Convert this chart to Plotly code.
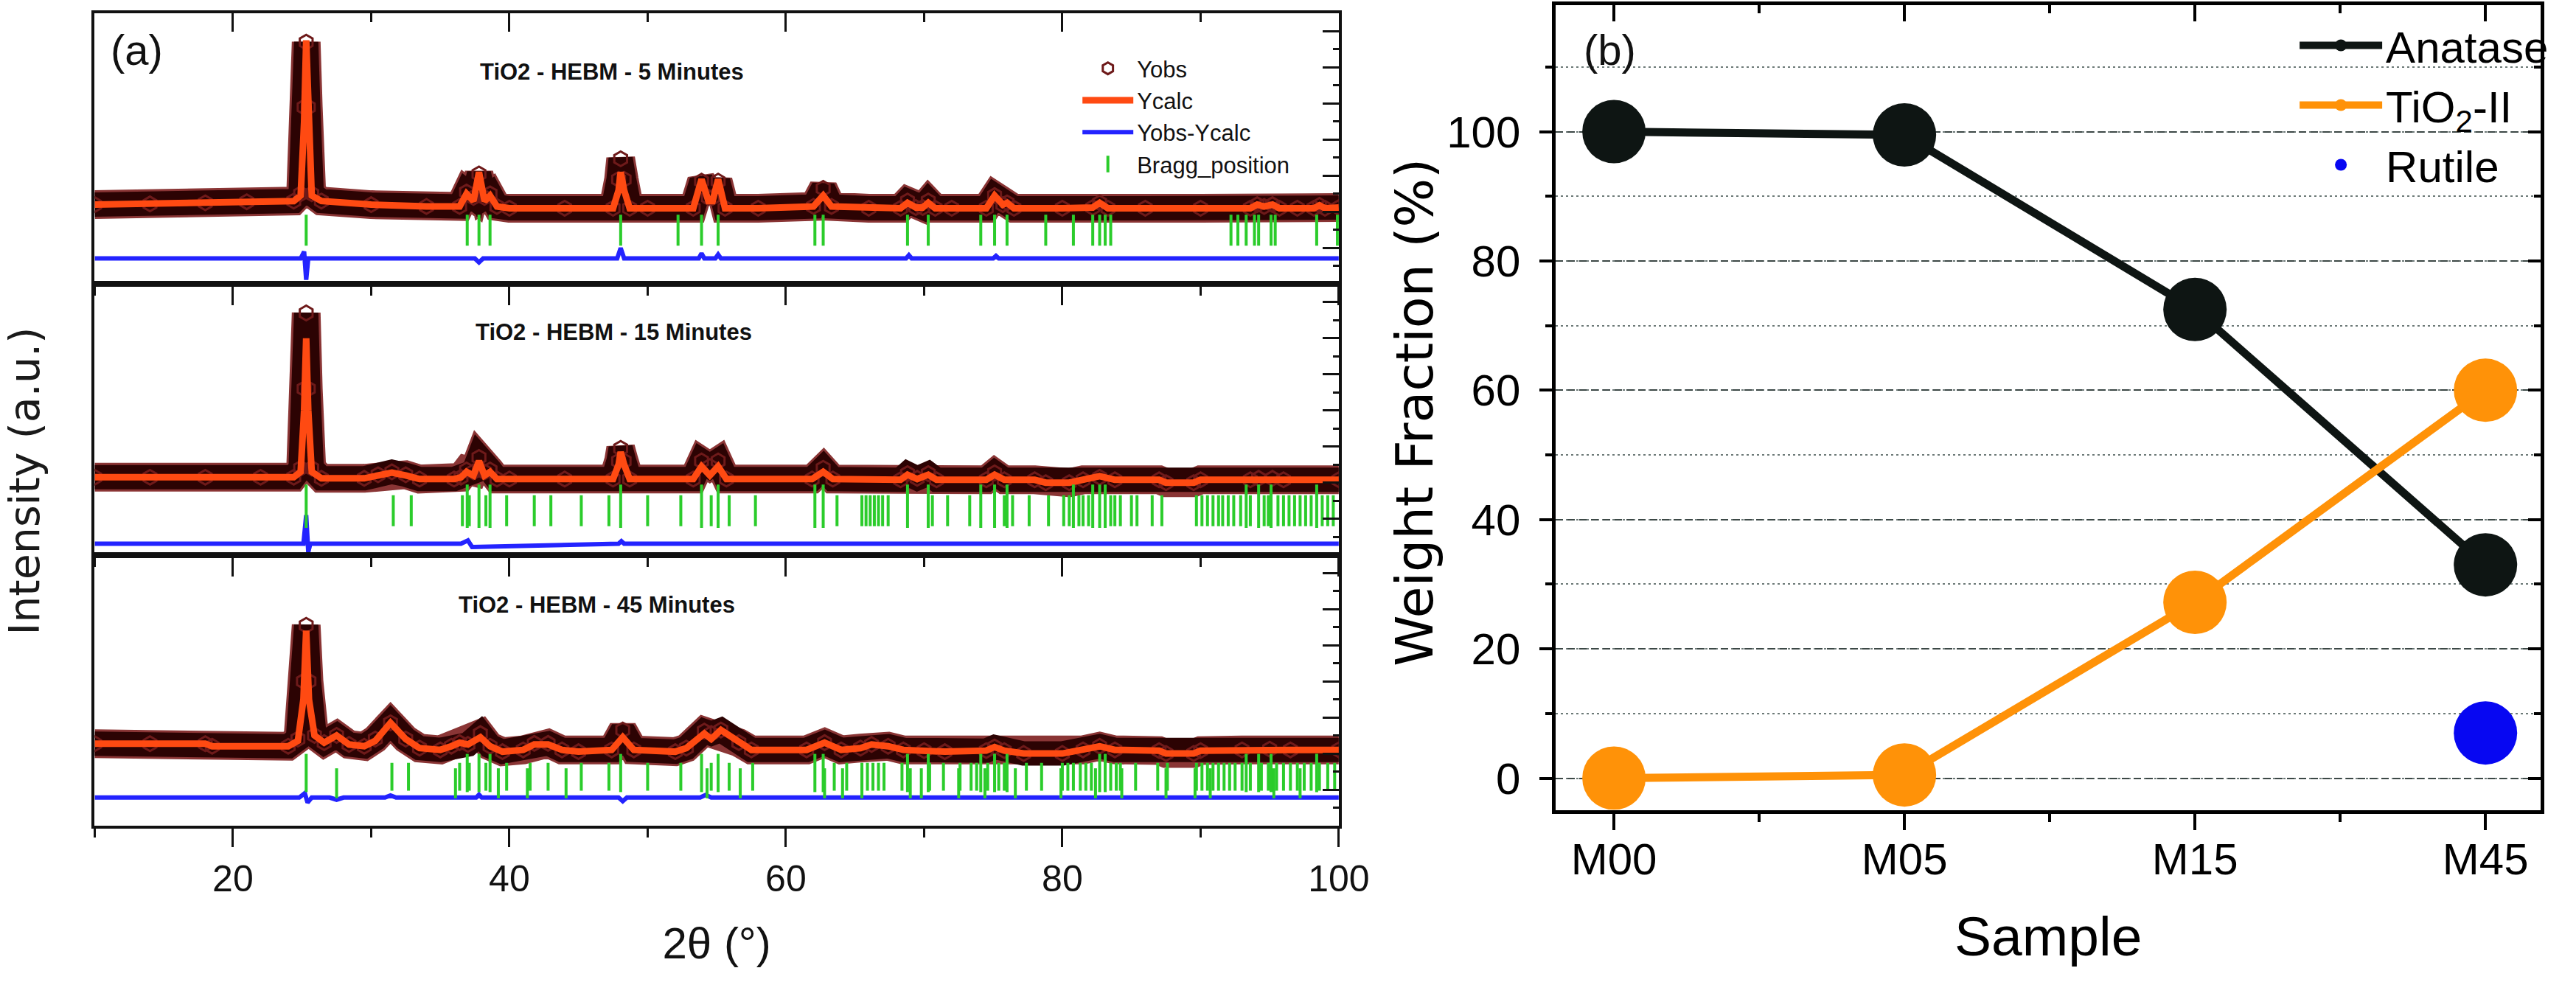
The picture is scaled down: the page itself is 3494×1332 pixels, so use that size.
import plotly.graph_objects as go

# ======================= DATA =======================
# ---- panel (a): Rietveld patterns (2theta in degrees, intensity in a.u.) ----
tt_05 = [10, 14, 18, 21, 24.4, 24.9, 25.15, 25.3, 25.45, 25.7,
         26.4, 30, 34, 36.4, 36.9, 37.4, 37.8, 38.2, 38.6, 39.1,
         40, 44, 47.5, 47.9, 48.05, 48.3, 48.7, 50, 53.3, 53.9,
         54.4, 54.7, 55.1, 55.6, 58, 62.0, 62.7, 63.3, 66, 68.3,
         68.8, 69.4, 69.9, 70.3, 70.8, 72, 74.5, 75.1, 75.7, 76.0,
         76.5, 80, 82.2, 82.7, 83.3, 86, 90, 93.6, 94.1, 94.6,
         95.2, 95.7, 97, 98.2, 98.6, 99.0, 100]
yobs_05 = [2.2, 2.22, 2.25, 2.28, 2.3, 2.5, 4.9, 6.7, 4.9, 2.5,
           2.3, 2.2, 2.15, 2.15, 2.55, 2.4, 3.05, 2.4, 2.5, 2.15,
           2.1, 2.1, 2.1, 2.9, 3.47, 2.9, 2.1, 2.1, 2.1, 2.85,
           2.4, 2.4, 2.85, 2.1, 2.1, 2.15, 2.65, 2.15, 2.1, 2.1,
           2.3, 2.12, 2.12, 2.3, 2.1, 2.1, 2.1, 2.45, 2.2, 2.25,
           2.1, 2.1, 2.12, 2.25, 2.1, 2.1, 2.1, 2.1, 2.2, 2.15,
           2.2, 2.1, 2.1, 2.1, 2.18, 2.1, 2.12]
ycalc_05 = [2.2, 2.22, 2.25, 2.28, 2.3, 2.45, 4.5, 6.75, 4.5, 2.45,
            2.3, 2.2, 2.15, 2.15, 2.5, 2.3, 3.1, 2.3, 2.45, 2.15,
            2.1, 2.1, 2.1, 2.6, 3.1, 2.6, 2.1, 2.1, 2.1, 2.9,
            2.3, 2.3, 2.9, 2.1, 2.1, 2.15, 2.45, 2.15, 2.1, 2.1,
            2.25, 2.12, 2.12, 2.25, 2.1, 2.1, 2.1, 2.45, 2.2, 2.25,
            2.1, 2.1, 2.12, 2.25, 2.1, 2.1, 2.1, 2.1, 2.2, 2.15,
            2.2, 2.1, 2.1, 2.1, 2.18, 2.1, 2.12]
diff_tt_05 = [10, 24.9, 25.15, 25.3, 25.45, 25.7, 37.5, 37.8, 38.1, 47.8,
              48.05, 48.3, 53.7, 53.9, 54.1, 54.9, 55.1, 55.3, 68.7, 68.9,
              69.1, 75.0, 75.2, 75.4, 100]
diff_05 = [0, 0, 0.19, -0.59, 0, 0, 0, -0.11, 0, 0,
           0.29, 0, 0, 0.14, 0, 0, 0.11, 0, 0, 0.09,
           0, 0, 0.07, 0, 0]
bragg_anatase_05 = [25.3, 36.95, 37.8, 38.6, 48.05, 52.2, 53.9, 55.1, 62.1, 62.7,
                    68.8, 70.3, 74.1, 75.1, 76.0, 78.8, 80.8, 82.2, 82.7, 83.1,
                    83.5, 92.2, 92.7, 93.3, 93.9, 94.2, 95.1, 95.4, 98.4, 99.9]

tt_15 = [10, 14, 18, 22, 24.4, 24.9, 25.15, 25.3, 25.45, 25.7,
         26.4, 29.5, 30.5, 31.5, 32.5, 33.5, 36, 36.5, 36.9, 37.4,
         37.8, 38.2, 38.6, 39.1, 40, 44, 47.5, 47.9, 48.05, 48.3,
         48.7, 53.3, 53.9, 54.5, 55.1, 55.7, 61.9, 62.7, 63.4, 68.3,
         68.8, 69.5, 70.3, 70.9, 74.5, 75.1, 75.8, 78, 78.8, 80.5,
         81.5, 82.7, 83.8, 87, 87.5, 89.5, 90, 93.6, 94.2, 95.2,
         96, 100]
yobs_15 = [2.15, 2.15, 2.15, 2.15, 2.15, 2.4, 4.6, 6.7, 4.6, 2.4,
           2.12, 2.12, 2.22, 2.3, 2.22, 2.1, 2.1, 2.15, 2.35, 2.3,
           2.7, 2.3, 2.35, 2.1, 2.1, 2.1, 2.1, 2.6, 2.95, 2.6,
           2.1, 2.1, 2.6, 2.45, 2.6, 2.1, 2.1, 2.4, 2.1, 2.08,
           2.25, 2.12, 2.25, 2.08, 2.08, 2.27, 2.08, 2.08, 2.0, 2.0,
           2.08, 2.15, 2.08, 2.08, 2.0, 2.0, 2.08, 2.08, 2.12, 2.12,
           2.08, 2.08]
ycalc_15 = [2.15, 2.15, 2.15, 2.15, 2.15, 2.3, 4.0, 6.0, 4.0, 2.3,
            2.12, 2.12, 2.2, 2.28, 2.2, 2.1, 2.1, 2.15, 2.3, 2.2,
            2.6, 2.2, 2.3, 2.1, 2.1, 2.1, 2.1, 2.5, 2.85, 2.5,
            2.1, 2.1, 2.45, 2.2, 2.45, 2.1, 2.1, 2.3, 2.1, 2.08,
            2.22, 2.1, 2.22, 2.08, 2.08, 2.22, 2.08, 2.08, 2.0, 2.0,
            2.08, 2.18, 2.08, 2.08, 2.0, 2.0, 2.08, 2.08, 2.12, 2.12,
            2.08, 2.08]
diff_tt_15 = [10, 25.1, 25.3, 25.45, 25.6, 36.5, 37.0, 37.3, 47.9, 48.1, 48.3, 100]
diff_15 = [0, 0, 0.79, -0.23, 0, 0, 0.09, -0.09, 0, 0.07, 0, 0]
bragg_anatase_15 = [25.3, 36.95, 37.8, 38.6, 48.05, 53.9, 55.1, 62.1, 62.7, 68.8,
                    70.3, 74.1, 75.1, 76.0, 80.8, 82.2, 82.7, 83.1, 93.3, 94.2,
                    95.1, 98.4]
bragg_tio2ii_15 = [31.6, 32.9, 36.6, 37.1, 38.3, 39.8, 41.8, 43.0, 45.2, 47.2,
                   50.0, 52.4, 54.6, 55.9, 57.8, 63.7, 65.5, 65.8, 66.1, 66.4,
                   66.7, 67.0, 67.4, 70.6, 71.7, 73.3, 75.8, 76.4, 77.6, 79.0,
                   80.1, 80.5, 81.2, 81.5, 81.9, 83.5, 83.8, 84.2, 85.0, 85.4,
                   86.5, 87.2, 89.7, 90.1, 90.5, 90.9, 91.3, 91.6, 92.0, 92.4,
                   92.9, 93.6, 94.6, 94.9, 95.6, 96.0, 96.4, 96.8, 97.2, 97.6,
                   98.0, 98.8, 99.2, 99.6]

tt_45 = [10, 14, 18, 18.5, 24, 24.7, 25.1, 25.3, 25.5, 25.9,
         26.6, 27.5, 28.4, 29.5, 30.3, 31.4, 32.5, 33.5, 35, 35.8,
         36.4, 37.0, 37.9, 38.6, 39.5, 41, 41.8, 42.8, 43.8, 45,
         47.4, 48.2, 49.0, 52, 52.8, 54.1, 54.6, 55.3, 56.6, 57.5,
         61.5, 62.8, 64, 65.4, 66.2, 67.4, 68.5, 70, 71.5, 74.5,
         75.1, 75.8, 77.2, 80, 81.5, 82.7, 83.8, 87, 87.5, 89.5,
         90, 93, 95, 96.5, 100]
yobs_45 = [2.27, 2.27, 2.27, 2.2, 2.2, 2.4, 4.0, 5.55, 4.0, 2.5,
           2.3, 2.5, 2.25, 2.2, 2.4, 2.85, 2.4, 2.15, 2.1, 2.2,
           2.3, 2.25, 2.55, 2.2, 2.05, 2.1, 2.28, 2.28, 2.1, 2.05,
           2.1, 2.65, 2.1, 2.05, 2.15, 2.62, 2.55, 2.65, 2.3, 2.1,
           2.1, 2.3, 2.1, 2.15, 2.25, 2.2, 2.1, 2.08, 2.05, 2.08,
           2.18, 2.08, 2.0, 2.0, 2.1, 2.2, 2.1, 2.08, 2.0, 2.0,
           2.08, 2.1, 2.12, 2.1, 2.1]
ycalc_45 = [2.27, 2.27, 2.27, 2.2, 2.2, 2.35, 3.5, 5.4, 3.5, 2.5,
            2.3, 2.5, 2.25, 2.2, 2.35, 2.85, 2.4, 2.15, 2.1, 2.2,
            2.3, 2.25, 2.45, 2.2, 2.05, 2.1, 2.25, 2.25, 2.1, 2.05,
            2.1, 2.45, 2.1, 2.05, 2.15, 2.55, 2.4, 2.65, 2.3, 2.1,
            2.1, 2.3, 2.1, 2.15, 2.25, 2.2, 2.1, 2.08, 2.05, 2.08,
            2.18, 2.08, 2.0, 2.0, 2.1, 2.2, 2.1, 2.08, 2.0, 2.0,
            2.08, 2.1, 2.12, 2.1, 2.1]
diff_tt_45 = [10, 24.8, 25.2, 25.4, 25.7, 27.0, 27.5, 28.0, 31.0, 31.4,
              31.8, 37.6, 37.8, 38.0, 47.9, 48.2, 48.5, 53.8, 54.2, 54.6, 100]
diff_45 = [0, 0, 0.12, -0.14, 0, 0, -0.06, 0, 0, 0.06,
           0, 0, 0.08, 0, 0, -0.1, 0, 0, 0.07, 0, 0]
bragg_anatase_45 = [25.3, 36.95, 37.8, 38.6, 48.05, 53.9, 55.1, 62.1, 62.7, 68.8,
                    70.3, 74.1, 75.1, 76.0, 82.7, 83.1, 93.3, 94.2, 95.1, 98.4]
bragg_tio2ii_45 = [31.5, 32.7, 36.4, 37.1, 38.3, 39.8, 41.5, 42.8, 45.2, 47.2,
                   50.0, 52.4, 54.6, 55.9, 57.6, 63.5, 64.4, 65.5, 65.9, 66.3,
                   66.7, 67.1, 68.4, 70.4, 71.4, 72.6, 73.4, 73.8, 74.6, 75.4,
                   75.8, 77.4, 78.5, 80.0, 80.4, 80.8, 81.3, 81.7, 82.1, 83.5,
                   83.9, 84.2, 85.3, 86.9, 87.6, 89.7, 90.1, 90.5, 90.9, 91.3,
                   91.7, 92.1, 92.5, 93.0, 93.6, 94.4, 94.9, 95.5, 96.0, 96.5,
                   97.0, 97.5, 98.0, 98.6, 99.2, 99.7]
bragg_rutile_45 = [27.5, 36.1, 39.2, 41.3, 44.1, 54.3, 56.7, 62.8, 64.1, 65.5,
                   69.0, 69.8, 72.5, 74.4, 76.6, 79.9, 82.4, 84.3, 87.5, 89.6,
                   90.7, 95.3, 97.2]

x_ticks_a = [20, 40, 60, 80, 100]

# ---- panel (b): weight fractions (%) ----
samples = ["M00", "M05", "M15", "M45"]
anatase = [100, 99.5, 72.5, 33]
tio2_ii = [0, 0.5, 27.2, 60]
rutile_samples = ["M45"]
rutile = [7]
y_ticks_b = [0, 20, 40, 60, 80, 100]

# ======================= STYLE =======================
W, H = 3494, 1332
ARIAL = "Arial, Liberation Sans, sans-serif"
NARROW = "Liberation Sans Narrow, Arial Narrow, Liberation Sans, Arial, sans-serif"
WIDE = "DejaVu Sans, Verdana, sans-serif"
BAND_EDGE, BAND, OBS_MARK = "#8a3535", "#2c0303", "#6e1a1a"
CALC, DIFF, BRAGG = "#ff4a12", "#2323ff", "#2bcc2b"
C_ANA, C_T2, C_RUT = "#0e1513", "#ff9208", "#0707f2"


def px(x):
    return x / W


def py(y):
    return 1 - y / H


A_X = [px(130), px(1838)]
A_TOP, A_BOT = 18, 1120
hh = (A_BOT - A_TOP) / 3
A_Y = [[py(A_TOP + (i + 1) * hh), py(A_TOP + i * hh)] for i in range(3)]  # top -> bottom
B_X = [px(2136), px(3488)]
B_Y = [py(1098.5), py(6.7)]

# bragg rows: (positions, centre in a.u., tick length px)
patterns = [
    dict(tt=tt_05, yobs=yobs_05, ycalc=ycalc_05, dtt=diff_tt_05, diff=diff_05, off=0.71,
         bragg=[(bragg_anatase_05, 1.49, 30)]),
    dict(tt=tt_15, yobs=yobs_15, ycalc=ycalc_15, dtt=diff_tt_15, diff=diff_15, off=0.31,
         bragg=[(bragg_anatase_15, 1.35, 42), (bragg_tio2ii_15, 1.225, 30)]),
    dict(tt=tt_45, yobs=yobs_45, ycalc=ycalc_45, dtt=diff_tt_45, diff=diff_45, off=0.78,
         bragg=[(bragg_anatase_45, 1.46, 37), (bragg_tio2ii_45, 1.355, 27),
                (bragg_rutile_45, 1.175, 29)]),
]

fig = go.Figure()

for i, p in enumerate(patterns):
    xr = "x" if i == 0 else f"x{i + 1}"
    yr = "y" if i == 0 else f"y{i + 1}"
    first = i == 0
    common = dict(xaxis=xr, yaxis=yr, hoverinfo="skip")
    fig.add_trace(go.Scatter(x=p["tt"], y=p["yobs"], mode="lines",
                             line=dict(color=BAND_EDGE, width=39), showlegend=False, **common))
    fig.add_trace(go.Scatter(x=p["tt"], y=p["yobs"], mode="lines",
                             line=dict(color=BAND, width=33), showlegend=False, **common))
    fig.add_trace(go.Scatter(x=p["tt"], y=p["yobs"], mode="markers", name="Yobs",
                             marker=dict(symbol="hexagon-open", size=20, color=OBS_MARK,
                                         line=dict(width=3, color=OBS_MARK)),
                             legend="legend", showlegend=first, **common))
    fig.add_trace(go.Scatter(x=p["tt"], y=p["ycalc"], mode="lines", name="Ycalc",
                             line=dict(color=CALC, width=9),
                             legend="legend", showlegend=first, **common))
    fig.add_trace(go.Scatter(x=p["dtt"], y=[v + p["off"] for v in p["diff"]], mode="lines",
                             name="Yobs-Ycalc", line=dict(color=DIFF, width=6),
                             legend="legend", showlegend=first, **common))
    for k, (pos, centre, size) in enumerate(p["bragg"]):
        fig.add_trace(go.Scatter(x=pos, y=[centre] * len(pos), mode="markers",
                                 name="Bragg_position",
                                 marker=dict(symbol="line-ns", size=size, color=BRAGG,
                                             line=dict(width=4, color=BRAGG)),
                                 legend="legend", showlegend=first and k == 0, **common))

# panel (b)
xpos = list(range(len(samples)))
rut_pos = [samples.index(s) for s in rutile_samples]
fig.add_trace(go.Scatter(x=xpos, y=anatase, mode="lines+markers", name="Anatase",
                         line=dict(color=C_ANA, width=11), marker=dict(size=86, color=C_ANA),
                         xaxis="x4", yaxis="y4", legend="legend2"))
fig.add_trace(go.Scatter(x=xpos, y=tio2_ii, mode="lines+markers", name="TiO<sub>2</sub>-II",
                         line=dict(color=C_T2, width=11), marker=dict(size=86, color=C_T2),
                         xaxis="x4", yaxis="y4", legend="legend2"))
fig.add_trace(go.Scatter(x=rut_pos, y=rutile, mode="markers", name="Rutile",
                         marker=dict(size=86, color=C_RUT),
                         xaxis="x4", yaxis="y4", legend="legend2"))

# empty traces to activate the mirror axes (top / right ticks pointing inward)
for xa, ya in [("x7", "y"), ("x6", "y4"), ("x4", "y5")]:
    fig.add_trace(go.Scatter(x=[], y=[], xaxis=xa, yaxis=ya, showlegend=False, hoverinfo="skip"))

tickfont_a = dict(family=ARIAL, size=50, color="#111")
for i in range(3):
    key = "" if i == 0 else str(i + 1)
    fig.layout["xaxis" + key] = dict(
        domain=A_X, anchor="y" + key, range=[10, 100], showline=True, linewidth=4,
        linecolor="#111", mirror=True, ticks="outside", ticklen=25, tickwidth=3,
        tickcolor="#111", tickvals=x_ticks_a, showticklabels=(i == 2), tickfont=tickfont_a,
        minor=dict(ticks="outside", ticklen=12, tickwidth=3, tickcolor="#111", dtick=10, tick0=0),
        showgrid=False, zeroline=False)
    fig.layout["yaxis" + key] = dict(
        domain=A_Y[i], anchor="x" + key, range=[0, 7.5], side="right", showline=True,
        linewidth=4, linecolor="#111", mirror=True, ticks="inside", ticklen=22, tickwidth=3,
        tickcolor="#111", dtick=1, tick0=0, showticklabels=False,
        minor=dict(ticks="inside", ticklen=8, tickwidth=3, tickcolor="#111", dtick=0.5, tick0=0),
        showgrid=False, zeroline=False)
fig.layout.xaxis3.title = dict(text="2θ (°)", font=dict(family=ARIAL, size=60, color="#111"),
                               standoff=40)
fig.layout.xaxis7 = dict(overlaying="x", anchor="y", side="top", range=[10, 100],
                         ticks="inside", ticklen=25, tickwidth=3, tickcolor="#111",
                         tickvals=x_ticks_a, showticklabels=False, showgrid=False, zeroline=False,
                         minor=dict(ticks="inside", ticklen=12, tickwidth=3, tickcolor="#111",
                                    dtick=10, tick0=0))

tickfont_b = dict(family=ARIAL, size=60, color="#000")
fig.layout.xaxis4 = dict(
    domain=B_X, anchor="y4", range=[-0.2, 3.19], tickvals=xpos, ticktext=samples,
    showline=True, linewidth=5, linecolor="#000", mirror=True, ticks="outside", ticklen=22,
    tickwidth=4, tickcolor="#000", tickfont=tickfont_b, ticklabelstandoff=-12,
    minor=dict(ticks="outside", ticklen=11, tickwidth=4, tickcolor="#000",
               tickvals=[0.5, 1.5, 2.5]),
    showgrid=False, zeroline=False,
    title=dict(text="Sample", font=dict(family=ARIAL, size=75, color="#000"), standoff=47))
fig.layout.xaxis6 = dict(
    overlaying="x4", anchor="y4", side="top", range=[-0.2, 3.19], tickvals=xpos,
    showticklabels=False, ticks="inside", ticklen=22, tickwidth=4, tickcolor="#000",
    minor=dict(ticks="inside", ticklen=11, tickwidth=4, tickcolor="#000",
               tickvals=[0.5, 1.5, 2.5]),
    showgrid=False, zeroline=False)
fig.layout.yaxis4 = dict(
    domain=B_Y, anchor="x4", range=[-4.9, 119.6], tickvals=y_ticks_b, showline=True,
    linewidth=5, linecolor="#000", mirror=True, ticks="outside", ticklen=17, tickwidth=4,
    tickcolor="#000", tickfont=tickfont_b, ticklabelstandoff=14,
    showgrid=True, gridcolor="#3c4846", gridwidth=2, griddash="10px,6px", zeroline=False,
    minor=dict(ticks="outside", ticklen=9, tickwidth=4, tickcolor="#000", dtick=10, tick0=0,
               showgrid=True, gridcolor="#6d7a78", gridwidth=2, griddash="3px,4px"))
fig.layout.yaxis5 = dict(
    overlaying="y4", anchor="x4", side="right", range=[-4.9, 119.6], tickvals=y_ticks_b,
    showticklabels=False, ticks="inside", ticklen=17, tickwidth=4, tickcolor="#000",
    minor=dict(ticks="inside", ticklen=9, tickwidth=4, tickcolor="#000", dtick=10, tick0=0),
    showgrid=False, zeroline=False)

ann_font = dict(family=ARIAL, size=58, color="#111")
sub_font = dict(family=NARROW, size=31, color="#111", weight="bold")


def ann(text, x, y, font, xanchor="center", angle=0):
    return dict(text=text, x=px(x), y=py(y), xref="paper", yref="paper", showarrow=False,
                xanchor=xanchor, yanchor="middle", textangle=angle, font=font)


fig.update_layout(
    width=W, height=H, autosize=False, margin=dict(l=0, r=0, t=0, b=0),
    paper_bgcolor="white", plot_bgcolor="white",
    legend=dict(x=px(1481), y=py(66), xanchor="left", yanchor="top", bgcolor="rgba(0,0,0,0)",
                font=dict(family=ARIAL, size=31, color="#111"), itemsizing="trace",
                itemwidth=69, tracegroupgap=0),
    legend2=dict(x=px(3152), y=py(16), xanchor="left", yanchor="top",
                 bgcolor="rgba(0,0,0,0)", font=dict(family=ARIAL, size=60, color="#000"),
                 itemsizing="trace", itemwidth=112),
    annotations=[
        ann("(a)", 188, 67, ann_font),
        ann("(b)", 2210, 68, ann_font),
        ann("TiO2 - HEBM - 5 Minutes", 657, 97, sub_font, xanchor="left"),
        ann("TiO2 - HEBM - 15 Minutes", 651, 450, sub_font, xanchor="left"),
        ann("TiO2 - HEBM - 45 Minutes", 628, 820, sub_font, xanchor="left"),
        ann("Intensity (a.u.)", 33, 653, dict(family=WIDE, size=57, color="#1a1a1a"), angle=-90),
        ann("Weight Fraction (%)", 1942, 559, dict(family=WIDE, size=70, color="#000"),
            angle=-90),
    ],
)

fig.write_html("out.html")
